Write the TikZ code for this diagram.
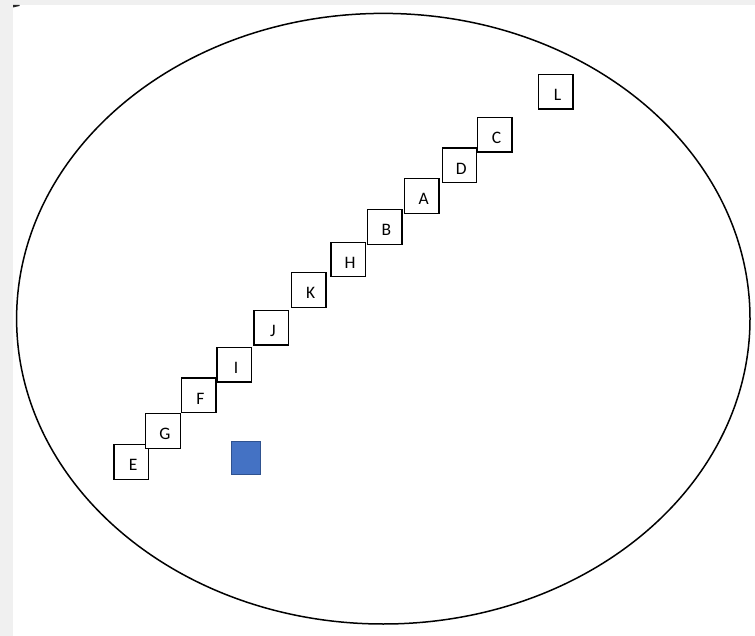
\documentclass[tikz,border=0pt]{standalone}
\usepackage{fontspec}
\setmainfont{Carlito}
\definecolor{bggray}{HTML}{F0F0F0}
\definecolor{bluefill}{HTML}{4472C4}
\definecolor{blueedge}{HTML}{2F528F}
\tikzset{
  letterbox/.style={draw=black, line width=1.4pt, minimum width=34.5pt, minimum height=34.5pt, inner sep=0pt, fill=white},
  lbl/.style={font=\fontsize{17.5}{19}\selectfont, inner sep=0pt, xshift=1.8pt, yshift=-3.2pt},
}
\begin{document}
\begin{tikzpicture}[x=1pt,y=-1pt]
\useasboundingbox (0,0) rectangle (755,636);
\fill[bggray] (0,0) rectangle (755,636);
\fill[white] (13,5) rectangle (755,636);
\fill[black!85] (13,5) -- (19.5,5) -- (19.5,6) -- (13,7.5) -- cycle;
\draw[line width=1.5pt] (383.3,318.7) ellipse [x radius=366.7, y radius=305.3];
\foreach \n/\x/\y in {E/131.3/462, G/163/431, F/198.7/395.2, I/234.2/364.7, J/271.2/327.7, K/308.8/290, H/348.3/259.5, B/384.7/227, A/421.8/196, D/459.5/165.3, C/494.7/134.8, L/555.8/91.7}{
  \node[letterbox] (\n) at (\x,\y) {};
  \node[lbl] (t\n) at (\n.center) {\n};
}
\node[draw=blueedge, fill=bluefill, line width=1pt, minimum width=29pt, minimum height=33pt, inner sep=0pt] (blue) at (245.7,457.7) {};
\end{tikzpicture}
\end{document}
